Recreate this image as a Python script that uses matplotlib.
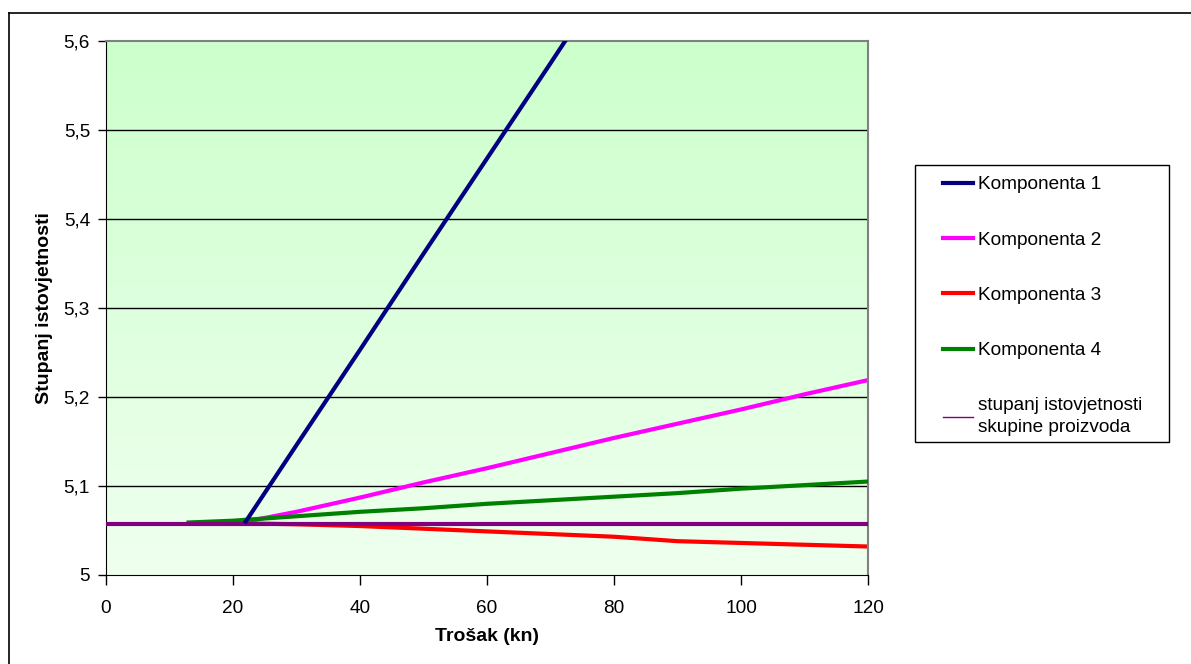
import matplotlib
matplotlib.use('Agg')
import matplotlib.pyplot as plt
import numpy as np
from matplotlib.lines import Line2D
from matplotlib.patches import Rectangle
from matplotlib.ticker import FuncFormatter

plt.rcParams['font.family'] = ['Liberation Sans', 'DejaVu Sans']

# data
k1_x = [22, 30, 40, 50, 60, 70, 80]
k1_y = [5.060, 5.146, 5.253, 5.361, 5.468, 5.575, 5.683]

k2_x = [22, 30, 40, 50, 60, 70, 80, 90, 100, 110, 120]
k2_y = [5.060, 5.071, 5.087, 5.104, 5.120, 5.137, 5.154, 5.170, 5.186, 5.203, 5.219]

k3_x = [22, 30, 40, 50, 60, 70, 80, 90, 100, 110, 120]
k3_y = [5.058, 5.057, 5.055, 5.052, 5.049, 5.046, 5.043, 5.038, 5.036, 5.034, 5.032]

k4_x = [13, 20, 30, 40, 50, 60, 70, 80, 90, 100, 110, 120]
k4_y = [5.059, 5.061, 5.066, 5.071, 5.075, 5.080, 5.084, 5.088, 5.092, 5.097, 5.101, 5.105]

grupa_x = [0, 120]
grupa_y = [5.057, 5.057]

labels = ['Komponenta 1', 'Komponenta 2', 'Komponenta 3', 'Komponenta 4',
          'stupanj istovjetnosti\nskupine proizvoda']
colors = ['#000080', '#FF00FF', '#FF0000', '#008000', '#800080']

W, H = 1191, 664
fig = plt.figure(figsize=(W / 100, H / 100), dpi=100)
ax = fig.add_axes([106 / W, 1 - 575 / H, 762 / W, 534 / H])

# gradient plot area
grad = np.linspace(0, 1, 256).reshape(-1, 1)
top = np.array([0xcc, 0xff, 0xcc]) / 255
bot = np.array([0xef, 0xff, 0xef]) / 255
img = top * (1 - grad[..., None]) + bot * grad[..., None]
ax.imshow(img, extent=[0, 1, 0, 1], transform=ax.transAxes, aspect='auto', zorder=0)

for y in np.arange(5.1, 5.6, 0.1):
    ax.axhline(y, color='black', lw=1, zorder=1)

ax.plot(k3_x, k3_y, color=colors[2], lw=3, zorder=2)
ax.plot(k2_x, k2_y, color=colors[1], lw=3, zorder=2)
ax.plot(k4_x, k4_y, color=colors[3], lw=3, zorder=3)
ax.plot(grupa_x, grupa_y, color=colors[4], lw=3, zorder=3)
ax.plot(k1_x, k1_y, color=colors[0], lw=3, zorder=4)

ax.set_xlim(0, 120)
ax.set_ylim(5, 5.6)
ax.set_xticks(range(0, 121, 20))
ax.set_yticks(np.arange(5, 5.61, 0.1))
ax.yaxis.set_major_formatter(FuncFormatter(
    lambda v, p: '5' if abs(v - 5) < 1e-9 else f'{v:.1f}'.replace('.', ',')))
ax.tick_params(axis='x', length=7, width=1, pad=11, labelsize=13.7)
ax.tick_params(axis='y', length=6, width=1, pad=5.5, labelsize=13.7)

for s in ['left', 'bottom']:
    ax.spines[s].set_color('black')
for s in ['top', 'right']:
    ax.spines[s].set_color('#808080')
    ax.spines[s].set_linewidth(1.5)

ax.set_xlabel('Trošak (kn)', fontsize=14, fontweight='bold', labelpad=8)
ax.set_ylabel('Stupanj istovjetnosti', fontsize=14, fontweight='bold', labelpad=8)

# legend: box drawn separately, entries via fig.legend
fig.add_artist(Rectangle((915 / W, 1 - 442 / H), 254 / W, 277 / H, transform=fig.transFigure,
                         facecolor='white', edgecolor='black', lw=1, zorder=1))
handles = [Line2D([], [], color=c, lw=3) for c in colors[:4]]
handles.append(Line2D([], [], color=colors[4], lw=1))
leg = fig.legend(handles, labels, loc='upper left',
                 bbox_to_anchor=(943 / W, 1 - 176 / H),
                 frameon=False, fontsize=13.7,
                 handlelength=1.6, handletextpad=0.25, labelspacing=2.0,
                 borderpad=0, borderaxespad=0)
leg.set_zorder(2)
leg.get_texts()[4].set_linespacing(1.35)

# outer chart border
fig.add_artist(Line2D([9 / W, 9 / W], [0, 1 - 13 / H], color='black', lw=1.2,
                      transform=fig.transFigure))
fig.add_artist(Line2D([9 / W, 1], [1 - 13 / H, 1 - 13 / H], color='black', lw=1.2,
                      transform=fig.transFigure))

fig.savefig('out.png', dpi=100)
